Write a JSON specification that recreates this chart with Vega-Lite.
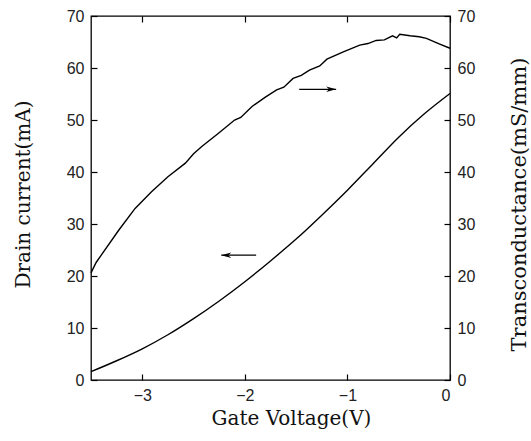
{
  "$schema": "https://vega.github.io/schema/vega-lite/v6.json",
  "width": 359,
  "height": 364,
  "autosize": {"type": "none"},
  "padding": {"left": 91, "top": 16, "right": 81, "bottom": 61},
  "background": "white",
  "config": {
    "view": {"stroke": "black", "strokeWidth": 1.3},
    "axis": {
      "grid": false,
      "domain": false,
      "tickColor": "black",
      "tickWidth": 1.2,
      "tickSize": -6,
      "labelFont": "Liberation Sans",
      "labelFontSize": 16,
      "labelColor": "#222",
      "labelPadding": 13,
      "titleFont": "DejaVu Serif",
      "titleFontWeight": "normal",
      "titleColor": "#111"
    }
  },
  "datasets": {
    "id": [
      {"V": -3.5, "I": 1.6},
      {"V": -3.25, "I": 3.7},
      {"V": -3.0, "I": 6.0},
      {"V": -2.75, "I": 8.7},
      {"V": -2.5, "I": 11.8},
      {"V": -2.25, "I": 15.2},
      {"V": -2.0, "I": 18.9},
      {"V": -1.75, "I": 22.9},
      {"V": -1.5, "I": 27.1},
      {"V": -1.25, "I": 31.7},
      {"V": -1.0, "I": 36.5},
      {"V": -0.75, "I": 41.6},
      {"V": -0.5, "I": 46.7},
      {"V": -0.25, "I": 51.2},
      {"V": 0.0, "I": 55.1}
    ],
    "gm": [
      {"V": -3.5, "G": 20.6},
      {"V": -3.45, "G": 22.6},
      {"V": -3.4, "G": 24.0},
      {"V": -3.23, "G": 28.8},
      {"V": -3.07, "G": 33.0},
      {"V": -2.91, "G": 36.2},
      {"V": -2.75, "G": 39.1},
      {"V": -2.58, "G": 41.7},
      {"V": -2.5, "G": 43.5},
      {"V": -2.42, "G": 44.9},
      {"V": -2.26, "G": 47.4},
      {"V": -2.1, "G": 50.0},
      {"V": -2.04, "G": 50.5},
      {"V": -1.93, "G": 52.6},
      {"V": -1.8, "G": 54.4},
      {"V": -1.69, "G": 55.8},
      {"V": -1.62, "G": 56.3},
      {"V": -1.53, "G": 58.0},
      {"V": -1.45, "G": 58.6},
      {"V": -1.37, "G": 59.6},
      {"V": -1.27, "G": 60.4},
      {"V": -1.2, "G": 61.7},
      {"V": -1.04, "G": 63.1},
      {"V": -0.88, "G": 64.4},
      {"V": -0.8, "G": 64.7},
      {"V": -0.72, "G": 65.3},
      {"V": -0.64, "G": 65.4},
      {"V": -0.56, "G": 66.2},
      {"V": -0.52, "G": 65.8},
      {"V": -0.49, "G": 66.5},
      {"V": -0.39, "G": 66.2},
      {"V": -0.3, "G": 66.0},
      {"V": -0.23, "G": 65.7},
      {"V": -0.1, "G": 64.6},
      {"V": 0.0, "G": 63.8}
    ],
    "arrows": [
      {"x1": -1.47, "x2": -1.11, "y": 55.9, "dir": "right", "tip": -1.11},
      {"x1": -1.89, "x2": -2.23, "y": 24.0, "dir": "left", "tip": -2.23}
    ]
  },
  "layer": [
    {
      "data": {"name": "id"},
      "mark": {"type": "line", "color": "black", "strokeWidth": 1.4, "interpolate": "monotone"},
      "encoding": {
        "x": {
          "field": "V", "type": "quantitative",
          "scale": {"domain": [-3.5, 0], "nice": false, "zero": false},
          "axis": {"orient": "bottom", "values": [-3, -2, -1, 0], "title": "Gate Voltage(V)", "titleFontSize": 20, "titleX": 200, "titleY": 38, "titleBaseline": "middle", "titleAlign": "center"}
        },
        "y": {
          "field": "I", "type": "quantitative",
          "scale": {"domain": [0, 70], "nice": false},
          "axis": {"orient": "left", "values": [0, 10, 20, 30, 40, 50, 60, 70], "title": "Drain current(mA)", "titleFontSize": 20, "titleAngle": -90, "titleX": -68, "titleY": 178, "titleBaseline": "middle", "titleAlign": "center"}
        }
      }
    },
    {
      "data": {"name": "gm"},
      "mark": {"type": "line", "color": "black", "strokeWidth": 1.4},
      "encoding": {
        "x": {
          "field": "V", "type": "quantitative",
          "scale": {"domain": [-3.5, 0], "nice": false, "zero": false},
          "axis": {"orient": "top", "values": [-3, -2, -1, 0], "labels": false, "title": null}
        },
        "y": {
          "field": "G", "type": "quantitative",
          "scale": {"domain": [0, 70], "nice": false},
          "axis": {"orient": "right", "values": [0, 10, 20, 30, 40, 50, 60, 70], "title": "Transconductance(mS/mm)", "titleFontSize": 21, "titleAngle": -90, "titleX": 69, "titleY": 188, "titleBaseline": "middle", "titleAlign": "center"}
        }
      }
    },
    {
      "data": {"name": "arrows"},
      "mark": {"type": "rule", "color": "black", "strokeWidth": 1.2},
      "encoding": {
        "x": {"field": "x1", "type": "quantitative", "scale": {"domain": [-3.5, 0], "nice": false, "zero": false}, "axis": null},
        "x2": {"field": "x2"},
        "y": {"field": "y", "type": "quantitative", "scale": {"domain": [0, 70], "nice": false}, "axis": null}
      }
    },
    {
      "data": {"name": "arrows"},
      "mark": {"type": "point", "filled": true, "color": "black", "size": 100, "opacity": 1},
      "encoding": {
        "x": {"field": "tip", "type": "quantitative", "scale": {"domain": [-3.5, 0], "nice": false, "zero": false}, "axis": null},
        "y": {"field": "y", "type": "quantitative", "scale": {"domain": [0, 70], "nice": false}, "axis": null},
        "shape": {
          "field": "dir", "type": "nominal",
          "scale": {"domain": ["left", "right"], "range": ["M 2 -0.55 L 0 0 L 2 0.55 L 1.4 0 Z", "M -2 -0.55 L 0 0 L -2 0.55 L -1.4 0 Z"]},
          "legend": null
        }
      }
    }
  ],
  "resolve": {"scale": {"y": "independent"}, "axis": {"x": "independent"}}
}
